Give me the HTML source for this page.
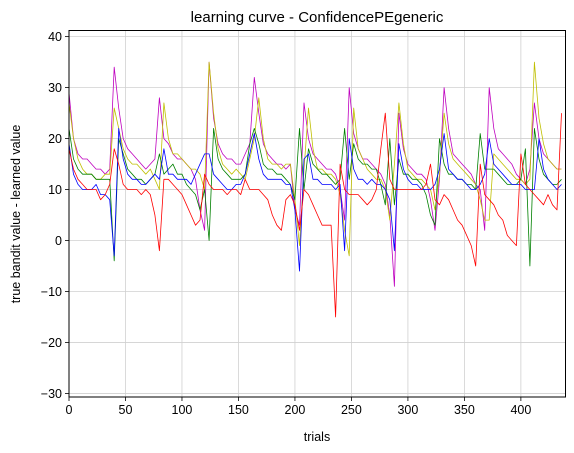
<!DOCTYPE html>
<html><head><meta charset="utf-8"><style>
html,body{margin:0;padding:0;background:#fff;}
svg{display:block;font-family:"Liberation Sans","DejaVu Sans",sans-serif;}
</style></head><body>
<svg id="chart" width="574" height="453" viewBox="0 0 574 453" xmlns="http://www.w3.org/2000/svg">
<rect width="574" height="453" fill="#fff"/>
<text x="317" y="22" text-anchor="middle" font-size="15" fill="#000">learning curve - ConfidencePEgeneric</text>
<text x="317" y="441" text-anchor="middle" font-size="12.5" fill="#000">trials</text>
<text x="0" y="0" transform="translate(20,214) rotate(-90)" text-anchor="middle" font-size="12.5" fill="#000">true bandit value - learned value</text>
<g id="grid"></g>
<g id="series"></g>
<g id="axes"></g>
</svg>
<script>
const xTicks = [0,50,100,150,200,250,300,350,400];
const yTicks = [-30,-20,-10,0,10,20,30,40];
const trialStep = 4;
const magentaValues = [29,20,17,16,16,15,14,14,13,14, 34,26,20,18,17,16,15,14,15,16, 28,20,19,17,16,16,15,14,12,6, 2,35,24,19,17,16,16,15,15,17, 19,32,25,19,17,16,15,15,14,15, 6,3,27,20,17,16,15,14,14,13, 10,4,30,21,18,16,16,15,14,13, 11,5,-9,25,18,15,14,13,13,12, 8,2,12,30,22,17,16,15,14,13, 11,10,2,30,22,18,17,16,15,13, 12,11,14,27,20,17,16,15,14,14];
const yellowValues = [27,20,16,14,13,13,12,12,13,13, 26,22,18,16,15,15,14,13,14,12, 10,27,20,17,17,16,15,14,14,13, 10,35,25,18,15,14,13,14,13,12, 16,20,28,20,16,15,15,14,15,15, 8,-1,14,26,18,14,14,13,13,12, 9,2,-3,26,18,16,14,13,12,12, 10,4,15,27,19,14,13,12,12,11, 10,6,13,25,19,16,15,14,13,12, 11,8,4,4,17,16,15,14,13,12, 12,11,12,35,24,19,16,15,14,14];
const greenValues = [22,16,14,13,13,13,12,12,12,12, -4,20,17,14,13,12,12,11,12,13, 17,13,14,15,13,13,11,10,9,6, 10,0,22,16,14,13,12,12,12,13, 19,22,19,15,14,14,13,13,12,11, 8,22,10,18,15,14,13,13,12,11, 12,22,12,19,16,15,15,14,14,11, 7,20,7,16,13,13,12,12,11,9, 5,3,20,15,13,13,12,12,11,11, 10,21,14,14,14,13,12,11,11,11, 12,18,-5,22,16,13,12,11,11,12];
const blueValues = [19,13,11,10,10,10,11,9,9,8, -3,22,16,13,12,12,11,11,12,13, 12,18,13,13,12,12,12,11,13,15, 17,17,13,12,11,10,10,11,11,13, 17,21,16,13,12,12,12,12,11,11, 6,-6,16,17,12,12,11,11,11,10, 11,-2,20,14,12,12,11,12,11,11, 10,8,-2,19,14,12,11,11,10,10, 10,11,14,21,14,13,12,12,11,10, 10,11,13,20,15,14,13,12,11,11, 11,10,10,10,20,14,12,11,10,11];
const redValues = [18,14,12,11,10,10,10,8,9,11, 18,15,11,10,10,10,9,10,9,5, -2,12,12,11,10,9,7,5,3,4, 13,11,10,10,10,9,10,10,9,12, 10,10,10,9,8,5,3,2,8,9, 7,2,10,9,7,5,3,3,3,-15, 15,10,9,9,9,8,7,8,10,18, 25,12,10,10,10,10,10,10,10,11, 15,8,7,9,8,6,4,3,1,-1, -5,15,9,8,7,5,4,1,0,-1, 17,11,10,9,8,7,9,7,6,25];

const L=69, R=565.5, T=30.5, B=397;
const xMin=0, xMax=439.5, yMin=-30.7, yMax=41.2;
const sx = v => L + (v - xMin) / (xMax - xMin) * (R - L);
const sy = v => B - (v - yMin) / (yMax - yMin) * (B - T);
const NS = "http://www.w3.org/2000/svg";
function mk(tag, attrs, parent){const e=document.createElementNS(NS,tag);for(const k in attrs)e.setAttribute(k,attrs[k]);parent.appendChild(e);return e;}
const grid=document.getElementById('grid'), axes=document.getElementById('axes'), series=document.getElementById('series');

xTicks.forEach(t=>{
  const x=sx(t);
  const g=mk('line',{x1:x,x2:x,y1:T,y2:B,stroke:'#d0d0d0','stroke-width':0.8},grid);
  
  
  const tk=mk('line',{x1:x,x2:x,y1:B,y2:B+4,stroke:'#000','stroke-width':0.8},axes);
  
  
  const lb=mk('text',{x:x,y:B+17,'text-anchor':'middle','font-size':12.5,fill:'#000'},axes);
  lb.textContent=t;
  
  
});
yTicks.forEach(t=>{
  const y=sy(t);
  const g=mk('line',{x1:L,x2:R,y1:y,y2:y,stroke:'#d0d0d0','stroke-width':0.8},grid);
  
  
  const tk=mk('line',{x1:L-4,x2:L,y1:y,y2:y,stroke:'#000','stroke-width':0.8},axes);
  
  
  const lb=mk('text',{x:L-7,y:y+4.5,'text-anchor':'end','font-size':12.5,fill:'#000'},axes);
  lb.textContent=t<0?'\u2212'+Math.abs(t):t;
  
  
});
const frame=mk('rect',{x:L,y:T,width:R-L,height:B-T,fill:'none',stroke:'#000','stroke-width':1},axes);



const defs=[['magenta',magentaValues,'#bf00bf'],['yellow',yellowValues,'#bfbf00'],['green',greenValues,'#008000'],['blue',blueValues,'#0000ff'],['red',redValues,'#ff0000']];
defs.forEach(([name,vals,col])=>{
  const pts=vals.map((v,i)=>sx(i*trialStep).toFixed(1)+','+sy(v).toFixed(1)).join(' ');
  const p=mk('polyline',{points:pts,fill:'none',stroke:col,'stroke-width':0.8,'stroke-linejoin':'round'},series);
  
  
});
</script>
</body></html>
